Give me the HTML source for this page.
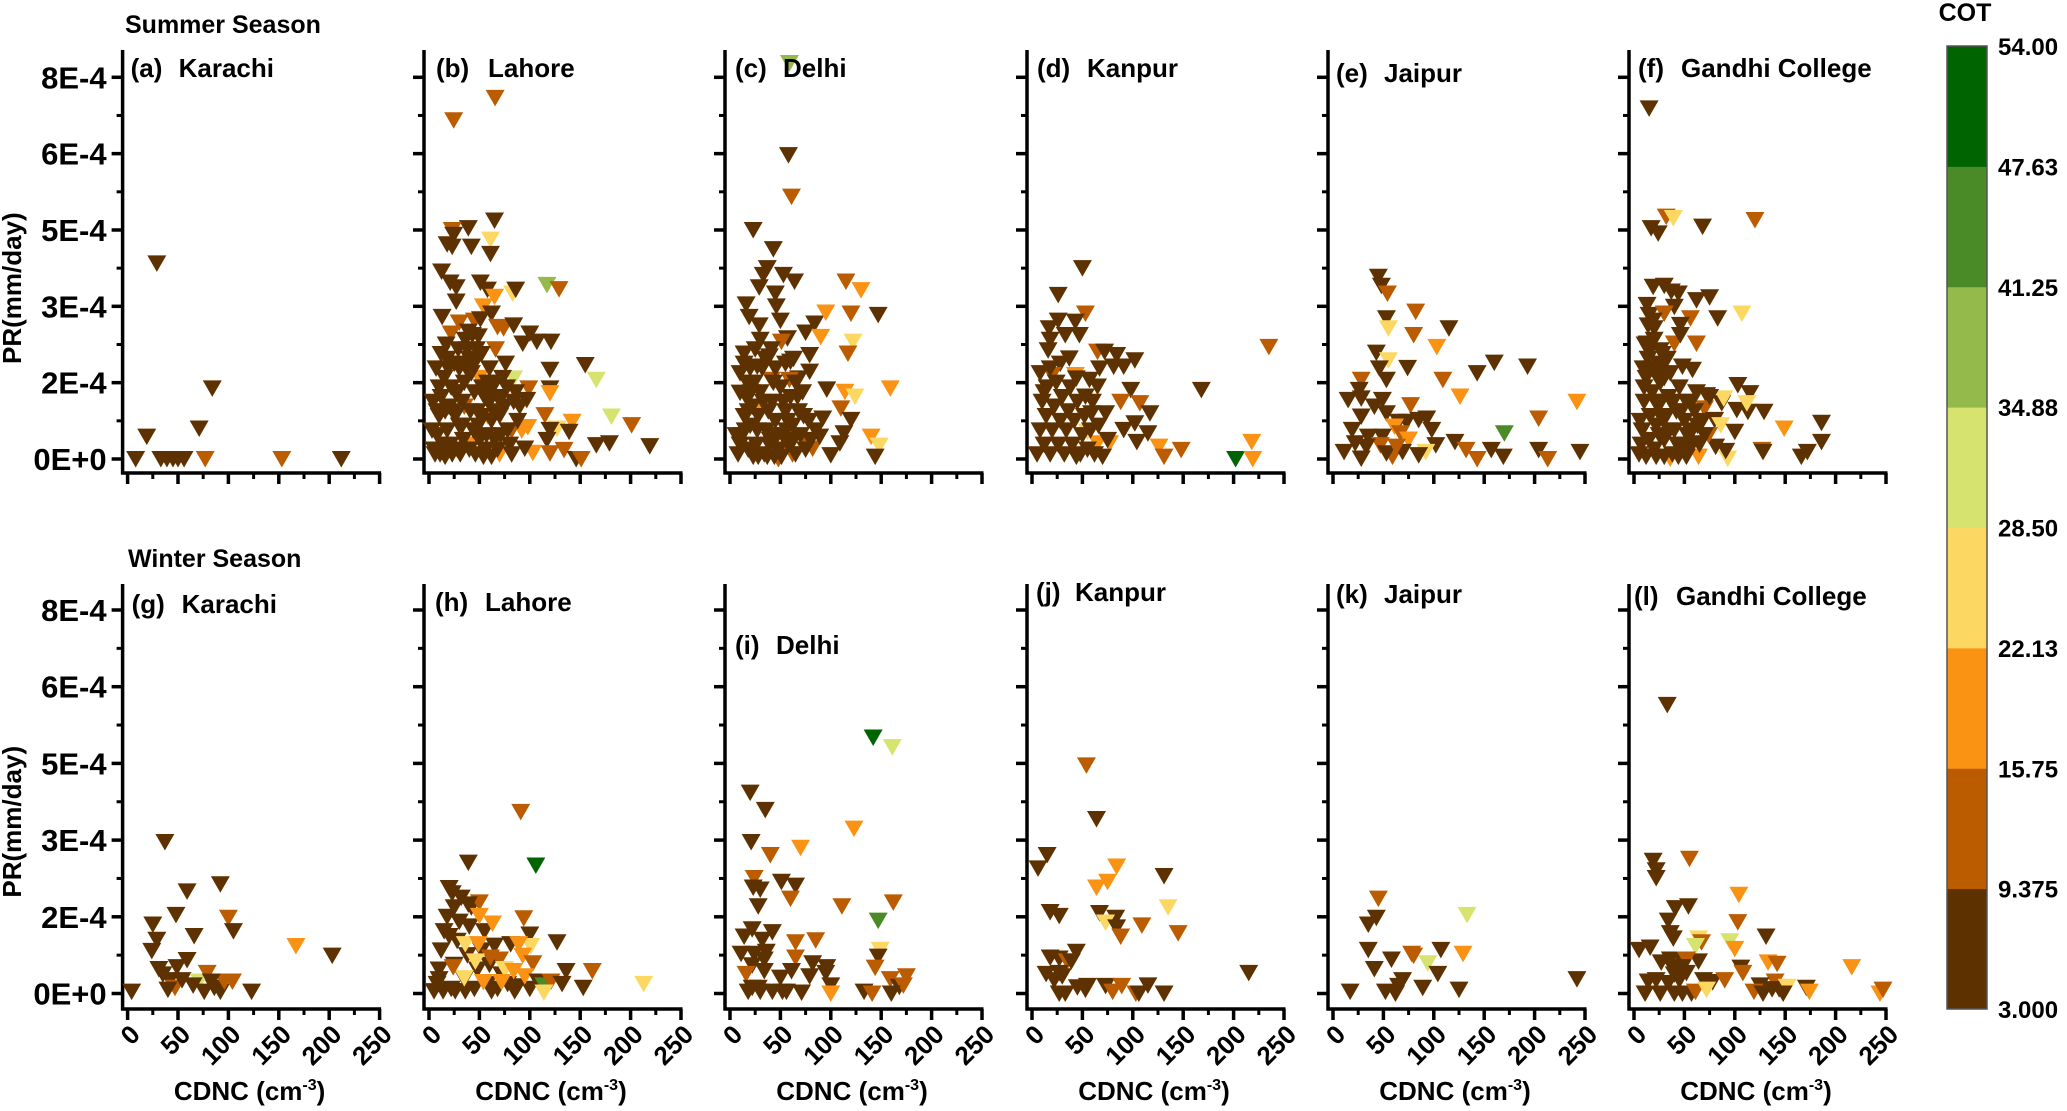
<!DOCTYPE html>
<html><head><meta charset="utf-8">
<style>
html,body{margin:0;padding:0;background:#fff;}
svg{display:block;font-family:"Liberation Sans",Arial,sans-serif;font-weight:bold;}
</style></head>
<body>
<svg id="chart" width="2067" height="1111" viewBox="0 0 2067 1111" xmlns="http://www.w3.org/2000/svg"></svg>
<script>
// ---- data: [CDNC, PR (x1e-4 mm/day), COT] ----
const yTickValues=[0,1.6,3.2,4.8,6.4,8];
const yTickLabels=["0E+0","2E-4","3E-4","5E-4","6E-4","8E-4"];
const xTickValues=[0,50,100,150,200,250];
const xTickLabels=["0","50","100","150","200","250"];
const cotBounds=[3,9.375,15.75,22.13,28.5,34.88,41.25,47.63,54];
const cotLabels=["3.000","9.375","15.75","22.13","28.50","34.88","41.25","47.63","54.00"];
const cotColors=["#5e3100","#bb5c00","#fa9214","#fcd862","#d6e46f","#93ba4a","#4a8b27","#006400"];

const karachiSummer=[[8,0,5],[19,0.47,5],[29,4.1,5],[33,0,5],[39,0,5],[45,0,5],[50,0,5],[56,0,5],[71,0.64,5],[77,0,12],[84,1.48,5],[153,0,12],[212,0,5]];
const lahoreSummer=[[24.5,7.1,12],[65.6,7.57,12],[65,5.0,5],[39,4.84,5],[23,4.8,12],[24.5,4.7,5],[18,4.5,5],[23,4.45,5],[42,4.45,5],[61,4.6,25],[61,4.3,5],[12.5,3.93,5],[21,3.7,5],[27,3.6,5],[27,3.3,5],[51,3.7,5],[58,3.55,5],[83,3.47,25],[86,3.55,5],[117,3.65,38],[129,3.56,12],[65,3.4,19],[54,3.2,19],[62,3.05,5],[13,2.98,5],[30,2.86,12],[45,2.9,12],[51,2.93,5],[39,2.67,5],[22,2.63,12],[49,2.57,5],[68,2.77,12],[74,2.74,12],[84,2.8,5],[100,2.63,5],[93,2.42,5],[107,2.46,5],[121,2.46,5],[155,1.97,5],[120,1.87,5],[166,1.66,31],[84,1.69,31],[99,1.48,12],[120,1.48,5],[120,1.38,19],[97,1.24,5],[115,0.92,12],[142,0.78,19],[181,0.89,31],[201,0.71,12],[127,0.64,25],[120,0.61,5],[139,0.57,5],[117,0.4,5],[166,0.29,5],[179,0.33,5],[219,0.27,5],[134,0.19,12],[120,0.12,12],[103,0.13,19],[95,0.22,5],[146,0,5],[151,0,12],[92,0.6,19],[98,0.67,19],
[42,0.3,19],[58,0.9,19],[70,0.1,19],[82,0.6,12],[35,1.1,12],[50,1.7,19],[66,2.3,12],
[5,0.2,5],[8,0.5,5],[10,0.9,5],[12,1.3,5],[15,1.7,5],[8,1.0,5],[6,0.1,5],[14,0.3,5],[18,0.6,5],[20,1.1,5],[22,1.5,5],[25,2.0,5],[12,2.2,5],[17,2.4,5],[19,1.9,5],[10,1.5,5],[28,0.2,5],[30,0.7,5],[33,1.2,5],[35,1.6,5],[32,2.0,5],[38,2.3,5],[36,2.5,5],[40,2.1,5],[42,1.8,5],[45,1.4,5],[48,1.0,5],[44,0.6,5],[40,0.2,5],[50,0.4,5],[52,0.9,5],[55,1.3,5],[58,1.6,5],[60,1.2,5],[62,0.8,5],[65,0.4,5],[68,0.2,5],[70,0.9,5],[72,1.3,5],[75,1.1,5],[78,0.6,5],[80,0.3,5],[23,0.1,5],[26,0.9,5],[46,0.1,5],[56,0.2,5],[60,1.9,5],[66,1.6,5],[73,1.7,5],[84,1.2,5],[88,0.8,5],[86,1.4,5],[3,0.6,5],[4,1.2,5],[28,1.4,5],[34,0.4,5],[16,0.05,5],[62,0.05,5],[76,2.0,5],[52,2.2,5],[47,2.3,5],[24,1.0,5],[30,1.9,5],
[7,1.9,5],[11,0.1,5],[16,1.0,5],[21,0.3,5],[26,1.4,5],[29,2.3,5],[33,0.7,5],[37,1.9,5],[41,1.0,5],[45,2.0,5],[49,0.7,5],[53,1.5,5],[57,0.5,5],[61,1.5,5],[64,1.0,5],[68,1.3,5],[71,0.5,5],[77,1.5,5],[82,0.1,5],[90,1.1,5],[18,2.1,5],[31,0.1,5],[54,0.05,5],[43,2.6,5]];
const delhiSummer=[[59,8.3,38],[58,6.37,5],[61,5.5,12],[23,4.8,5],[43,4.4,5],[37,4.0,5],[33,3.86,5],[53,3.86,5],[64,3.72,5],[29,3.6,5],[45,3.47,5],[16,3.24,5],[46,3.2,5],[19,2.98,5],[29,2.8,5],[50,2.9,5],[84,2.84,5],[75,2.65,5],[57,2.53,5],[51,2.46,12],[115,3.72,12],[130,3.54,19],[95,3.07,19],[120,3.05,12],[147,3.02,5],[90,2.56,19],[122,2.46,25],[117,2.21,12],[79,2.18,5],[14,2.21,5],[60,2.04,5],[39,2.15,5],[27,1.94,5],[79,1.83,5],[68,1.69,5],[59,1.66,12],[41,1.66,12],[96,1.46,5],[114,1.41,19],[124,1.31,25],[159,1.48,19],[110,1.06,12],[120,0.82,5],[92,0.85,5],[140,0.47,19],[148,0.28,25],[144,0.05,5],[100,0.08,5],[113,0.54,5],[109,0.33,5],[82,0.22,12],[89,0.47,5],[10,1.39,5],
[48,0.0,12],[62,0.1,12],[75,0.3,12],[30,1.0,19],
[8,0.1,5],[12,0.5,5],[14,0.9,5],[16,1.3,5],[18,0.2,5],[20,0.7,5],[22,1.1,5],[24,1.6,5],[26,0.3,5],[28,0.9,5],[30,1.4,5],[32,1.9,5],[34,0.1,5],[36,0.6,5],[38,1.0,5],[40,0.4,5],[42,1.2,5],[45,0.8,5],[48,0.2,5],[50,1.5,5],[52,0.5,5],[55,1.0,5],[58,0.3,5],[60,1.3,5],[62,0.7,5],[65,0.1,5],[68,1.0,5],[70,0.5,5],[72,1.4,5],[75,0.2,5],[78,0.8,5],[10,1.8,5],[14,2.0,5],[20,1.9,5],[25,2.3,5],[30,2.5,5],[35,2.1,5],[45,1.9,5],[55,2.0,5],[65,1.6,5],[28,0.05,5],[44,0.05,5],[56,0.6,5],[18,1.0,5],[6,0.5,5],[85,0.6,5],
[10,0.3,5],[15,0.6,5],[21,1.4,5],[27,0.6,5],[33,1.2,5],[39,0.3,5],[43,1.6,5],[47,0.5,5],[53,1.2,5],[57,0.8,5],[63,0.4,5],[67,1.3,5],[73,0.9,5],[80,0.4,5],[23,0.05,5],[37,0.05,5],[51,0.05,5],[17,1.6,5],[41,2.3,5],[63,2.1,5]];
const kanpurSummer=[[50,4.0,5],[26,3.44,5],[53,3.05,12],[43,2.88,5],[26,2.9,5],[17,2.74,5],[18,2.5,5],[33,2.6,5],[47,2.6,5],[16,2.28,5],[235,2.35,12],[65,2.25,12],[72,2.25,5],[84,2.18,5],[102,2.07,5],[81,1.94,5],[91,1.94,5],[67,1.9,5],[37,2.11,5],[28,2.0,5],[20,1.76,12],[43,1.76,19],[44,1.69,5],[57,1.66,5],[65,1.52,5],[98,1.45,5],[168,1.45,5],[88,1.2,12],[107,1.17,12],[53,1.31,5],[117,0.96,5],[73,0.96,5],[59,0.96,5],[102,0.75,5],[91,0.61,5],[115,0.54,5],[104,0.36,5],[126,0.26,19],[148,0.19,12],[131,0.05,12],[218,0.36,19],[202,0,51],[219,0,19],[65,0.33,19],[77,0.33,19],[55,0.57,25],
[5,0.1,5],[8,0.6,5],[10,1.2,5],[12,0.3,5],[14,0.9,5],[15,1.5,5],[18,0.1,5],[20,0.6,5],[22,1.1,5],[24,1.6,5],[26,0.3,5],[28,0.8,5],[30,1.3,5],[32,0.1,5],[34,0.6,5],[36,1.0,5],[38,1.5,5],[40,0.3,5],[42,0.8,5],[45,1.2,5],[48,0.1,5],[50,0.5,5],[52,0.9,5],[55,0.2,5],[58,0.6,5],[60,1.2,5],[62,0.1,5],[70,0.05,5],[75,0.4,5],[8,1.8,5],[18,1.9,5],[44,0.05,5],[66,0.7,5],[12,1.4,5]];
const jaipurSummer=[[45,3.82,5],[48,3.63,5],[54,3.47,12],[82,3.09,12],[53,2.95,5],[55,2.74,25],[80,2.6,12],[115,2.74,5],[103,2.35,19],[43,2.23,5],[55,2.07,25],[46,1.9,5],[74,1.91,5],[53,1.66,5],[28,1.66,12],[109,1.66,12],[143,1.8,5],[160,2.02,5],[193,1.94,5],[26,1.45,5],[15,1.24,5],[28,1.27,5],[49,1.24,5],[41,1.1,5],[126,1.31,19],[242,1.2,19],[77,1.13,12],[28,0.89,5],[53,0.96,5],[65,0.78,5],[73,0.78,5],[85,0.82,5],[93,0.85,5],[61,0.68,19],[67,0.54,12],[75,0.41,19],[98,0.61,5],[19,0.61,5],[204,0.85,12],[170,0.54,44],[35,0.47,5],[49,0.47,5],[47,0.29,12],[102,0.29,5],[121,0.36,5],[132,0.19,12],[143,0,12],[157,0.19,5],[169,0.05,5],[204,0.19,5],[213,0,12],[245,0.15,5],[92,0.15,25],[85,0.08,5],[11,0.15,5],[28,0.01,5],[59,0.05,12],[69,0.15,5],[53,0.12,5],[33,0.26,5],[22,0.33,5],[63,0.26,12]];
const gandhiSummer=[[15,7.35,5],[32,5.08,12],[39,5.05,25],[17,4.84,5],[24,4.73,5],[68,4.87,5],[120,5.01,12],[19,3.61,5],[30,3.63,5],[37,3.51,5],[44,3.47,5],[62,3.33,5],[75,3.39,5],[13,3.23,5],[15,3.02,5],[40,3.19,5],[30,3.05,12],[56,2.95,12],[83,2.95,5],[107,3.05,25],[46,2.81,5],[20,2.74,5],[40,2.42,12],[62,2.42,12],[46,2.6,5],[13,2.42,5],[15,2.25,5],[26,2.28,5],[28,1.97,5],[48,1.94,5],[58,1.87,5],[103,1.55,5],[115,1.38,5],[72,1.34,5],[87,1.17,5],[102,1.03,5],[113,0.99,5],[129,0.99,5],[112,1.17,25],[89,1.27,25],[70,1.06,12],[80,0.82,5],[86,0.71,25],[100,0.57,5],[149,0.64,19],[186,0.76,5],[186,0.36,5],[127,0.19,12],[128,0.15,5],[166,0.05,5],[172,0.15,5],[93,0.01,25],[91,0.17,5],[81,0.26,5],[64,0.05,19],[58,0.33,5],[74,0.5,12],[36,0.01,19],
[5,0.1,5],[8,0.6,5],[10,1.2,5],[12,1.7,5],[14,2.1,5],[7,0.3,5],[16,0.9,5],[18,1.4,5],[20,0.2,5],[22,0.7,5],[24,1.1,5],[26,1.6,5],[28,2.2,5],[30,0.4,5],[32,0.9,5],[34,1.3,5],[36,1.8,5],[38,0.1,5],[40,0.6,5],[42,1.0,5],[45,1.5,5],[48,0.3,5],[50,0.8,5],[52,1.2,5],[55,0.2,5],[58,0.6,5],[60,1.0,5],[62,1.4,5],[65,0.3,5],[68,0.8,5],[20,2.5,5],[25,2.0,5],[14,2.8,5],[10,1.5,5],[30,1.7,5],[44,0.05,5],[12,0.05,5],[70,0.5,5],[75,1.3,5],
[6,0.8,5],[9,1.9,5],[11,2.4,5],[15,0.4,5],[17,1.9,5],[19,2.9,5],[21,1.2,5],[23,1.8,5],[25,0.5,5],[27,1.2,5],[29,0.8,5],[33,2.1,5],[35,0.6,5],[39,1.2,5],[43,0.3,5],[47,1.0,5],[53,0.5,5],[57,1.2,5],[63,0.7,5],[22,0.05,5],[30,0.05,5],[52,0.05,5]];
const karachiWinter=[[4,0.04,5],[37,3.16,5],[25,1.44,5],[29,1.12,5],[24,0.89,5],[48,1.64,5],[59,2.13,5],[66,1.2,5],[59,0.7,5],[92,2.28,5],[100,1.58,12],[105,1.3,5],[31,0.51,5],[35,0.4,5],[49,0.55,5],[42,0.28,5],[47,0.12,12],[54,0.28,5],[71,0.25,31],[65,0.17,5],[79,0.43,12],[76,0.04,5],[86,0.12,5],[92,0.04,5],[96,0.25,12],[104,0.25,12],[123,0.04,5],[167,0.99,19],[203,0.79,5],[40,0.08,5],[83,0.25,5]];
const lahoreWinter=[[5,0.05,5],[8,0.2,5],[10,0.5,5],[12,0.9,5],[15,1.3,5],[18,1.6,5],[20,2.2,5],[22,0.1,5],[25,0.6,5],[28,1.1,5],[30,1.5,5],[32,2.0,5],[35,0.3,5],[38,0.8,5],[40,1.4,5],[42,1.8,5],[45,0.1,5],[48,0.5,5],[52,0.9,5],[55,1.3,5],[58,0.2,5],[60,0.6,5],[65,1.0,5],[68,0.1,5],[72,0.4,5],[78,0.2,5],[85,0.05,5],[14,0.05,5],[26,0.05,5],[36,0.05,5],[20,1.2,5],[25,1.8,5],[10,0.3,5],[62,0.05,5],[88,0.15,5],[100,0.1,5],
[91,3.79,12],[39,2.73,5],[106,2.67,51],[23,2.09,5],[50,1.9,12],[39,1.86,5],[50,1.62,19],[63,1.46,19],[94,1.57,12],[100,1.23,5],[127,1.07,5],[81,1.03,5],[36,1.03,25],[101,0.99,25],[89,1.03,19],[49,1.03,19],[61,0.75,12],[70,0.71,12],[46,0.67,25],[93,0.79,19],[103,0.63,12],[75,0.51,25],[136,0.47,5],[162,0.47,12],[84,0.47,19],[95,0.36,19],[35,0.32,25],[54,0.24,19],[72,0.24,19],[108,0.25,5],[114,0.17,44],[121,0.25,12],[114,0.02,25],[132,0.2,5],[153,0.12,5],[213,0.2,25],[24,0.55,12]];
const delhiWinter=[[142,5.34,51],[161,5.14,31],[20,4.19,5],[35,3.83,5],[123,3.44,19],[70,3.04,19],[21,3.16,5],[40,2.89,12],[24,2.41,12],[23,2.21,5],[30,2.17,5],[51,2.33,5],[65,2.25,5],[60,1.98,12],[28,1.82,5],[111,1.82,12],[162,1.9,12],[147,1.52,44],[22,1.34,5],[14,1.19,5],[42,1.28,5],[32,1.12,5],[65,1.07,12],[85,1.11,12],[11,0.83,5],[24,0.83,5],[36,0.87,5],[34,0.71,5],[149,0.91,25],[147,0.77,5],[65,0.75,12],[22,0.59,5],[16,0.41,12],[34,0.47,5],[61,0.47,5],[82,0.63,5],[96,0.55,5],[95,0.43,5],[79,0.36,5],[50,0.33,5],[144,0.54,12],[100,0.17,5],[175,0.36,12],[159,0.3,12],[168,0.14,5],[172,0.17,12],[18,0.04,5],[30,0.04,5],[42,0.04,5],[52,0.04,5],[56,0.04,5],[71,0.02,5],[100,0,19],[133,0.04,5],[141,0,12],[160,0,5],[22,0.12,5],[28,0.12,5]];
const kanpurWinter=[[54,4.76,12],[64,3.64,5],[15,2.89,5],[6,2.61,5],[84,2.65,19],[75,2.33,19],[64,2.21,19],[131,2.45,5],[135,1.8,25],[18,1.7,5],[27,1.62,5],[67,1.68,5],[83,1.58,5],[73,1.48,25],[84,1.38,5],[109,1.42,12],[88,1.19,12],[145,1.26,12],[18,0.75,5],[27,0.73,5],[35,0.67,12],[44,0.87,5],[39,0.67,5],[14,0.41,5],[27,0.43,5],[22,0.28,5],[30,0.36,5],[215,0.43,5],[45,0.13,5],[55,0.16,5],[73,0.16,5],[80,0.04,12],[89,0.16,12],[103,0,12],[106,0,5],[115,0.17,5],[131,0,5],[27,0,5],[33,0,5],[53,0.08,5]];
const jaipurWinter=[[45,1.98,12],[43,1.58,5],[35,1.44,5],[133,1.64,31],[35,0.91,5],[78,0.83,12],[80,0.79,12],[107,0.91,5],[129,0.83,19],[94,0.63,31],[58,0.71,5],[41,0.51,5],[104,0.41,5],[69,0.28,5],[65,0.16,5],[89,0.12,5],[125,0.08,5],[52,0.04,5],[62,0,5],[17,0.04,5],[242,0.3,5]];
const gandhiWinter=[[33,6.02,5],[19,2.77,5],[22,2.57,5],[22,2.41,5],[55,2.81,12],[104,2.06,19],[41,1.78,5],[54,1.82,5],[34,1.52,5],[103,1.49,12],[36,1.26,5],[39,1.15,5],[131,1.19,5],[64,1.15,25],[67,1.07,12],[95,1.09,31],[100,0.93,19],[61,0.99,31],[5,0.91,5],[16,0.96,5],[27,0.65,5],[36,0.71,5],[47,0.71,5],[64,0.67,5],[52,0.71,12],[133,0.65,19],[142,0.62,12],[216,0.55,19],[106,0.54,5],[108,0.43,12],[38,0.55,5],[48,0.55,5],[40,0.4,5],[52,0.43,5],[14,0.25,5],[22,0.28,5],[34,0.22,5],[45,0.28,5],[69,0.28,5],[78,0.24,5],[90,0.28,12],[140,0.25,12],[125,0.17,5],[137,0.09,5],[144,0.09,5],[152,0.14,25],[171,0.12,5],[174,0.04,19],[119,0.04,12],[128,0,5],[148,0,5],[11,0,5],[26,0,5],[40,0,5],[48,0,5],[57,0,5],[61,0.04,12],[72,0.08,25],[244,0,19],[247,0.08,12]];

const panelLetters=["(a)","(b)","(c)","(d)","(e)","(f)","(g)","(h)","(i)","(j)","(k)","(l)"];
const panelCities=["Karachi","Lahore","Delhi","Kanpur","Jaipur","Gandhi College","Karachi","Lahore","Delhi","Kanpur","Jaipur","Gandhi College"];
const panelData=[karachiSummer,lahoreSummer,delhiSummer,kanpurSummer,jaipurSummer,gandhiSummer,karachiWinter,lahoreWinter,delhiWinter,kanpurWinter,jaipurWinter,gandhiWinter];

// ---- layout ----
const NS="http://www.w3.org/2000/svg";
const svg=document.getElementById('chart');
const axisXs=[122.6,424,725,1027,1328,1629];
const rows=[{y0:459,y8:77.3,xAxisY:473,top:50},{y0:993.5,y8:610,xAxisY:1009,top:584}];
const labelPos=[[8,56,77],[12,64,77],[10,58,77],[10,60,77],[8,56,82],[9,52,77],[9,59,613],[11,61,611],[10,51,654],[9,48,601],[8,56,603],[5,47,605]];
function el(tag,attrs,parent){const e=document.createElementNS(NS,tag);for(const k in attrs)e.setAttribute(k,attrs[k]);(parent||svg).appendChild(e);return e;}
function cotColor(c){for(let i=0;i<8;i++){if(c<cotBounds[i+1])return cotColors[i];}return cotColors[7];}

let t=el('text',{x:125,y:33,'font-size':25});t.textContent="Summer Season";


t=el('text',{x:128,y:567,'font-size':25});t.textContent="Winter Season";



for(let p=0;p<12;p++){
  const r=rows[Math.floor(p/6)], col=p%6, ax=axisXs[col];
  const g=el('g',{});
  
  
  const xs=v=>ax+5+v*(252/250);
  const ys=v=>r.y0-v*(r.y0-r.y8)/8;
  const ya=el('line',{x1:ax,y1:r.top,x2:ax,y2:r.xAxisY+1.5,stroke:'#000','stroke-width':3.5},g);
  
  
  const xa=el('line',{x1:ax-1.5,y1:r.xAxisY,x2:xs(250)+1.5,y2:r.xAxisY,stroke:'#000','stroke-width':3.5},g);
  
  
  yTickValues.forEach((v,i)=>{
    el('line',{x1:ax-11,y1:ys(v),x2:ax,y2:ys(v),stroke:'#000','stroke-width':3.5},g);
    if(i<yTickValues.length-1){const m=(v+yTickValues[i+1])/2;el('line',{x1:ax-6,y1:ys(m),x2:ax,y2:ys(m),stroke:'#000','stroke-width':3},g);}
    if(col===0){const tl=el('text',{x:ax-16,y:ys(v)+11,'font-size':31,'text-anchor':'end'},g);tl.textContent=yTickLabels[i];
      
      }
  });
  xTickValues.forEach((v,i)=>{
    el('line',{x1:xs(v),y1:r.xAxisY,x2:xs(v),y2:r.xAxisY+11,stroke:'#000','stroke-width':3.5},g);
    if(i<xTickValues.length-1){const m=v+25;el('line',{x1:xs(m),y1:r.xAxisY,x2:xs(m),y2:r.xAxisY+6,stroke:'#000','stroke-width':3},g);}
    if(p>=6){const lx=xs(v)+14, ly=r.xAxisY+27;const tl=el('text',{x:lx,y:ly,'font-size':26,'text-anchor':'end',transform:'rotate(-45 '+lx+' '+ly+')'},g);tl.textContent=xTickLabels[i];
      
      }
  });
  if(col===0){
    const cy=(r.y0+r.y8)/2+20;
    const yt=el('text',{x:21,y:cy,'font-size':26,'text-anchor':'middle',transform:'rotate(-90 21 '+cy+')'},g);yt.textContent="PR(mm/day)";
    
    
  }
  if(p>=6){
    const xt=el('text',{x:(xs(0)+xs(250))/2-4,y:1100,'font-size':26,'text-anchor':'middle'},g);
    xt.innerHTML='CDNC (cm<tspan dy="-10" font-size="16">-3</tspan><tspan dy="10">)</tspan>';
    
    
  }
  panelData[p].forEach(d=>{
    const x=xs(d[0]), y=ys(d[1]);
    const m=el('polygon',{points:(x-9.5)+','+(y-8)+' '+(x+9.5)+','+(y-8)+' '+x+','+(y+8.5),fill:cotColor(d[2])},g);
    
    
  });
  const lp=labelPos[p];
  const l1=el('text',{x:ax+lp[0],y:lp[2],'font-size':26},g);l1.textContent=panelLetters[p];
  
  
  const l2=el('text',{x:ax+lp[1],y:lp[2],'font-size':26},g);l2.textContent=panelCities[p];
  
  
}

const cb=el('g',{});


const cbTop=46, cbBot=1009, cbX=1947, cbW=40;
const segH=(cbBot-cbTop)/8;
for(let i=0;i<8;i++){
  const s=el('rect',{x:cbX,y:cbBot-(i+1)*segH,width:cbW,height:segH+0.5,fill:cotColors[i]},cb);
  
  
}
el('rect',{x:cbX,y:cbTop,width:cbW,height:cbBot-cbTop,fill:'none',stroke:'#555','stroke-width':1.5},cb);
cotLabels.forEach((lab,i)=>{
  const tl=el('text',{x:1998,y:cbBot-i*segH+9,'font-size':24},cb);tl.textContent=lab;
  
  
});
const ct=el('text',{x:1965,y:21,'font-size':25,'text-anchor':'middle'},cb);ct.textContent="COT";


</script>
</body></html>
